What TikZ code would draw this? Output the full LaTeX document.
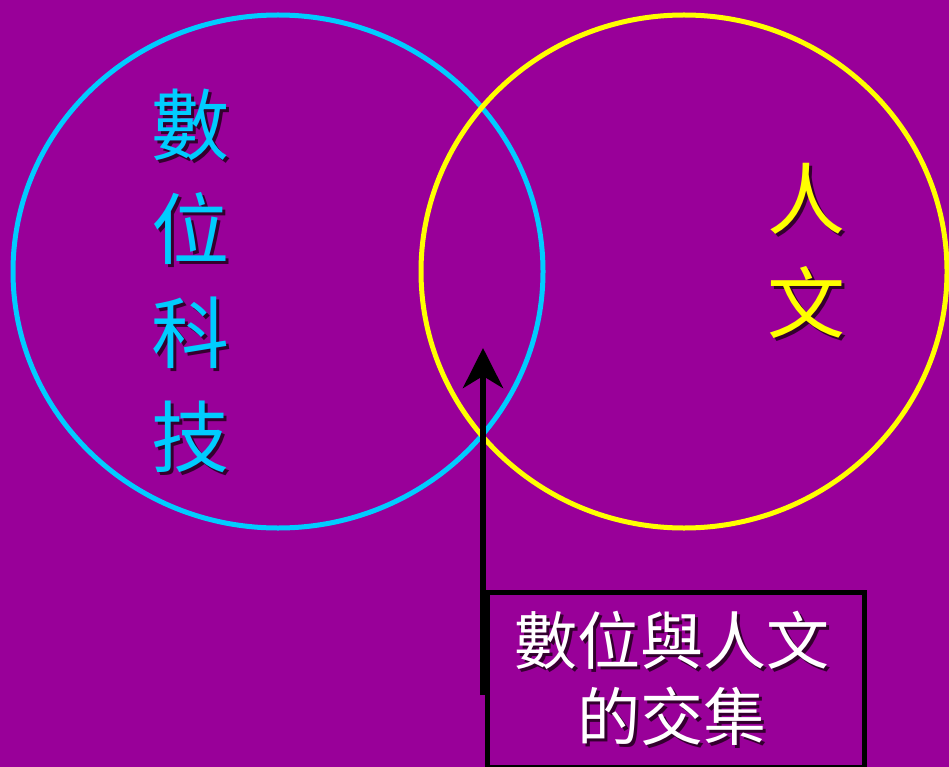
\documentclass[tikz,border=0pt]{standalone}
\usepackage{fontspec}
\newfontfamily\cjk{Noto Sans CJK TC}
\usetikzlibrary{shapes.geometric,arrows.meta}
\definecolor{bgpurple}{HTML}{990099}
\definecolor{ringcyan}{HTML}{00CCFF}
\definecolor{ringyellow}{HTML}{FFFF00}
\definecolor{shade}{HTML}{33002E}
\newcommand{\shd}[1]{\makebox[0pt][l]{\kern3pt\raisebox{-3pt}{\textcolor{shade}{#1}}}#1}
\tikzset{
  ring/.style={ellipse, draw, line width=5pt, inner sep=0pt},
  bigchars/.style={font=\cjk\fontsize{78}{104}\selectfont, align=center, inner sep=0pt},
  boxchars/.style={font=\cjk\fontsize{63}{76}\selectfont, align=center, inner sep=0pt},
  labelbox/.style={draw=black, line width=5pt, inner sep=0pt},
}
\begin{document}
\begin{tikzpicture}[x=1pt,y=-1pt]
\fill[bgpurple] (0,0) rectangle (949,767);
\useasboundingbox (0,0) rectangle (949,767);
% rings
\node[ring, draw=ringcyan, minimum width=530pt, minimum height=513pt] (tech) at (278,271.5) {};
\node[ring, draw=ringyellow, minimum width=526pt, minimum height=513pt] (hum) at (684,271.5) {};
% vertical labels
\node[bigchars, text=ringcyan] (techT) at (190,282) {\shd{數}\\\shd{位}\\\shd{科}\\\shd{技}};
\node[bigchars, text=ringyellow] (humT) at (806,252) {\shd{人}\\\shd{文}};
% label box
\node[labelbox, minimum width=377pt, minimum height=175pt, anchor=north west] (box) at (485,590) {};
\node[boxchars, text=white] (boxT) at (672,680) {\shd{數位與人文}\\\shd{的交集}};
% arrow
\coordinate (start) at (483,695);
\coordinate (tip) at (483,348);
\draw[line width=6pt, -{Stealth[length=40pt,width=40pt,inset=12pt]}] (start) -- (tip);
\end{tikzpicture}
\end{document}
